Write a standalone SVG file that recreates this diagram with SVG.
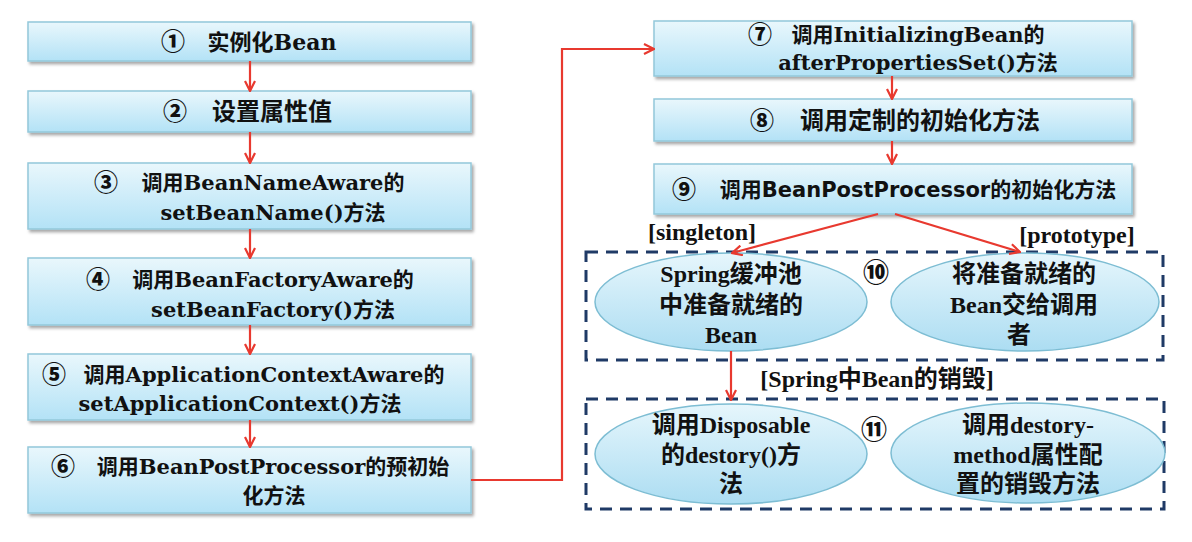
<svg xmlns="http://www.w3.org/2000/svg" width="1192" height="542" viewBox="0 0 1192 542">
<defs>
<linearGradient id="gBox" x1="0" y1="0" x2="0" y2="1">
<stop offset="0" stop-color="#E9F7FC"/>
<stop offset="1" stop-color="#B3E2F6"/>
</linearGradient>
<linearGradient id="gEll" x1="0" y1="0" x2="0" y2="1">
<stop offset="0" stop-color="#E6F6FC"/>
<stop offset="1" stop-color="#ACDDF2"/>
</linearGradient>
<filter id="sh" x="-5%" y="-20%" width="110%" height="150%">
<feDropShadow dx="2" dy="2.5" stdDeviation="1.5" flood-color="#000" flood-opacity="0.35"/>
</filter>
<marker id="ah" viewBox="0 0 12 12" refX="11" refY="6" markerWidth="12" markerHeight="12" markerUnits="userSpaceOnUse" orient="auto">
<path d="M1,1 L11,6 L1,11" fill="none" stroke="#E8392F" stroke-width="2.2"/>
</marker>
</defs>
<style>
.box{fill:url(#gBox);stroke:#93C8DA;stroke-width:1.5;filter:url(#sh);}
.ell{fill:url(#gEll);stroke:#7DBDD3;stroke-width:1.5;}
.t{font-family:"DejaVu Serif","Noto Sans CJK SC",serif;font-weight:bold;font-size:21px;fill:#111;text-anchor:middle;}
.ts{font-family:"DejaVu Sans","Noto Sans CJK SC",sans-serif;font-weight:bold;font-size:21px;fill:#111;text-anchor:middle;}
.n{font-family:"Noto Sans CJK SC",sans-serif;font-weight:900;font-size:24px;fill:#111;text-anchor:middle;}
.e{font-family:"Liberation Serif","Noto Sans CJK SC",serif;font-weight:bold;font-size:24px;fill:#111;text-anchor:middle;}
.n2{font-family:"Noto Sans CJK SC",sans-serif;font-weight:900;font-size:26px;fill:#111;text-anchor:middle;}
.con{fill:none;stroke:#E8392F;stroke-width:2.2;marker-end:url(#ah);}
.dash{fill:none;stroke:#1F3A66;stroke-width:3;stroke-dasharray:12 8;}
</style>

<g id="groups">
<rect id="group10" class="dash" x="586" y="252" width="577" height="108"/>
<rect id="group11" class="dash" x="586" y="399" width="578" height="110"/>
<text class="n2" x="876" y="282">⑩</text>
<text class="n2" x="874" y="439">⑪</text>
</g>

<g id="node1">
<rect class="box" x="28" y="22" width="443" height="39"/>
<text class="n" x="173" y="50">①</text>
<text class="t" x="272" y="50" style="font-size:22px">实例化Bean</text>
</g>
<g id="node2">
<rect class="box" x="28" y="91" width="443" height="41"/>
<text class="n" x="175" y="120">②</text>
<text class="t" x="272" y="120" style="font-size:24px">设置属性值</text>
</g>
<g id="node3">
<rect class="box" x="28" y="163" width="443" height="66"/>
<text class="n" x="106" y="191">③</text>
<text class="t" x="273" y="190">调用BeanNameAware的</text>
<text class="t" x="273" y="220">setBeanName()方法</text>
</g>
<g id="node4">
<rect class="box" x="28" y="258" width="443" height="67"/>
<text class="n" x="98" y="288">④</text>
<text class="t" x="273" y="287">调用BeanFactoryAware的</text>
<text class="t" x="273" y="317">setBeanFactory()方法</text>
</g>
<g id="node5">
<rect class="box" x="28" y="354" width="443" height="66"/>
<text class="n" x="54" y="383">⑤</text>
<text class="t" x="264" y="382">调用ApplicationContextAware的</text>
<text class="t" x="240" y="411">setApplicationContext()方法</text>
</g>
<g id="node6">
<rect class="box" x="28" y="447" width="443" height="66"/>
<text class="n" x="63" y="475">⑥</text>
<text class="t" x="273" y="474">调用BeanPostProcessor的预初始</text>
<text class="t" x="274" y="503">化方法</text>
</g>
<g id="node7">
<rect class="box" x="654" y="21" width="478" height="55"/>
<text class="n" x="760" y="43">⑦</text>
<text class="t" x="918" y="42">调用InitializingBean的</text>
<text class="t" x="918" y="70">afterPropertiesSet()方法</text>
</g>
<g id="node8">
<rect class="box" x="654" y="99" width="478" height="42"/>
<text class="n" x="762" y="129">⑧</text>
<text class="t" x="920" y="129" style="font-size:24px">调用定制的初始化方法</text>
</g>
<g id="node9">
<rect class="box" x="654" y="164" width="478" height="50"/>
<text class="n" x="684" y="198">⑨</text>
<text class="ts" x="918" y="197">调用BeanPostProcessor的初始化方法</text>
</g>
<g id="node10a">
<ellipse class="ell" cx="731" cy="302" rx="136" ry="49"/>
<text class="e" x="731" y="282">Spring缓冲池</text>
<text class="e" x="731" y="313">中准备就绪的</text>
<text class="e" x="731" y="343">Bean</text>
</g>
<g id="node10b">
<ellipse class="ell" cx="1025" cy="302" rx="134" ry="49"/>
<text class="e" x="1024" y="282">将准备就绪的</text>
<text class="e" x="1024" y="313">Bean交给调用</text>
<text class="e" x="1019" y="343">者</text>
</g>
<g id="node11a">
<ellipse class="ell" cx="731" cy="454" rx="136" ry="50"/>
<text class="e" x="731" y="433">调用Disposable</text>
<text class="e" x="731" y="463">的destory()方</text>
<text class="e" x="731" y="492">法</text>
</g>
<g id="node11b">
<ellipse class="ell" cx="1028" cy="453" rx="137" ry="50"/>
<text class="e" x="1028" y="433">调用destory-</text>
<text class="e" x="1028" y="463">method属性配</text>
<text class="e" x="1028" y="492">置的销毁方法</text>
</g>

<g id="connectors">
<line class="con" x1="250" y1="61" x2="250" y2="91"/>
<line class="con" x1="250" y1="132" x2="250" y2="163"/>
<line class="con" x1="250" y1="229" x2="250" y2="258"/>
<line class="con" x1="250" y1="325" x2="250" y2="354"/>
<line class="con" x1="250" y1="420" x2="250" y2="447"/>
<polyline class="con" points="471,480 562,480 562,49 654,49"/>
<line class="con" x1="892" y1="76" x2="892" y2="99"/>
<line class="con" x1="892" y1="141" x2="892" y2="164"/>
<line class="con" x1="878" y1="214" x2="732" y2="253"/>
<line class="con" x1="895" y1="214" x2="1020" y2="252"/>
<line class="con" x1="731" y1="351" x2="731" y2="400"/>
<text class="e" x="702" y="240">[singleton]</text>
<text class="e" x="1077" y="243">[prototype]</text>
<text class="e" x="877" y="387">[Spring中Bean的销毁]</text>
</g>
</svg>
